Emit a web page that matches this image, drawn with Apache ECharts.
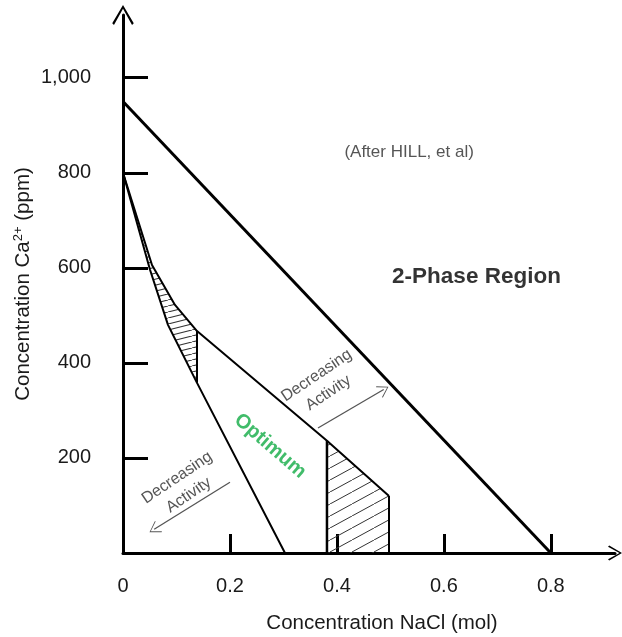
<!DOCTYPE html>
<html>
<head>
<meta charset="utf-8">
<script src="https://cdn.jsdelivr.net/npm/echarts@6/dist/echarts.min.js"></script>
<style>
html,body{margin:0;padding:0;background:#fff;}
#chart{width:622px;height:637px;}
</style>
</head>
<body>
<div id="chart"></div>
<script>
// ---- data (x: NaCl mol, y: Ca2+ ppm) ----
const xTickValues = [0.2, 0.4, 0.6, 0.8];
const xLabelValues = [0, 0.2, 0.4, 0.6, 0.8];
const yTickValues = [200, 400, 600, 800, 1000];

const phaseBoundary = [[0, 950], [0.8, 0]];
const lowerBoundary = [[0, 800], [0.0505, 596], [0.0841, 480], [0.1384, 358], [0.3029, 0]];
const upperBoundary = [[0, 800], [0.0542, 606], [0.0972, 522], [0.1384, 467], [0.3814, 236], [0.4974, 120]];
const leftVertical = [[0.1384, 358], [0.1384, 467]];
const midVertical = [[0.3814, 0], [0.3814, 236]];
const rightVertical = [[0.4974, 0], [0.4974, 120]];
const leftHatch = [[0, 800], [0.0542, 606], [0.0972, 522], [0.1384, 467], [0.1384, 358], [0.0841, 480], [0.0505, 596]];
const rightHatch = [[0.3814, 236], [0.4974, 120], [0.4974, 0], [0.3814, 0]];

const annotationTexts = ['(After HILL, et al)', '2-Phase Region', 'Optimum', 'Decreasing\nActivity', 'Decreasing\nActivity'];
const annotationPoints = [[0.535, 844], [0.661, 581], [0.275, 225], [0.373, 355], [0.112, 140]];
const arrowStarts = [[0.3646, 263], [0.2, 149]];
const arrowEnds = [[0.4875, 344], [0.0583, 50]];

// ---- helpers ----
function hatchPattern(w, h, color, lw) {
  const c = document.createElement('canvas');
  c.width = w; c.height = h;
  const ctx = c.getContext('2d');
  ctx.strokeStyle = color; ctx.lineWidth = lw;
  ctx.beginPath();
  for (const dx of [-w, 0, w]) { ctx.moveTo(dx, h); ctx.lineTo(dx + w, 0); }
  ctx.stroke();
  return { image: c, repeat: 'repeat' };
}
const chevronAxis = 'path://M50,0 L100,85 L92,93 L50,17 L8,93 L0,85 Z';
const chevronThin = 'path://M50,0 L100,82 L95,88 L50,12 L5,88 L0,82 Z';

function lineSeries(data, width) {
  return { type: 'line', data: data, symbol: 'none', showSymbol: false, silent: true, z: 4,
    lineStyle: { color: '#000', width: width }, animation: false };
}
function polySeries(points, pattern) {
  return { type: 'custom', coordinateSystem: 'cartesian2d', silent: true, z: 2, animation: false,
    data: [[0, 0]],
    renderItem: function (params, api) {
      return { type: 'polygon', shape: { points: points.map(p => api.coord(p)) },
        style: { fill: pattern, stroke: null } };
    } };
}

const textBase = { color: '#1a1a1a', fontFamily: 'Liberation Sans, Arial, sans-serif' };
const annStyles = [
  { fontSize: 17, color: '#2a2a2a', rotate: 0 },
  { fontSize: 22.5, fontWeight: 'bold', color: '#000', rotate: 0 },
  { fontSize: 20, fontWeight: 'bold', color: '#12ab45', rotate: -41 },
  { fontSize: 16, color: '#2a2a2a', rotate: 34, lineHeight: 21 },
  { fontSize: 16, color: '#2a2a2a', rotate: 34, lineHeight: 21 }
];

const chart = echarts.init(document.getElementById('chart'), null, { renderer: 'canvas' });
chart.setOption({
  animation: false,
  backgroundColor: '#fff',
  textStyle: { fontFamily: 'Liberation Sans, Arial, sans-serif' },
  grid: { left: 123, right: 7, top: 15, bottom: 84, containLabel: false, outerBoundsMode: 'none' },
  xAxis: {
    type: 'value', min: 0, max: 0.92,
    name: 'Concentration NaCl (mol)', nameLocation: 'middle', nameGap: 60, nameMoveOverlap: false,
    nameTextStyle: Object.assign({}, textBase, { fontSize: 20.5, padding: [0, 0, 0, 26] }),
    axisLine: { show: true, lineStyle: { color: '#000', width: 3 }, symbol: ['none', chevronAxis], symbolSize: [23, 14] },
    axisTick: { show: true, inside: true, length: 19, lineStyle: { color: '#000', width: 3 }, customValues: xTickValues },
    axisLabel: Object.assign({}, textBase, { fontSize: 20, margin: 23, customValues: xLabelValues,
      formatter: v => String(v) }),
    splitLine: { show: false }
  },
  yAxis: {
    type: 'value', min: 0, max: 1132,
    name: 'Concentration Ca{sup|2+} (ppm)', nameLocation: 'middle', nameGap: 88, nameMoveOverlap: false,
    nameTextStyle: Object.assign({}, textBase, { fontSize: 20.5,
      rich: { sup: { fontSize: 13, color: '#1a1a1a', padding: [0, 0, 10, 0] } } }),
    axisLine: { show: true, lineStyle: { color: '#000', width: 3 }, symbol: ['none', chevronAxis], symbolSize: [23, 20] },
    axisTick: { show: true, inside: true, length: 25, lineStyle: { color: '#000', width: 3 }, customValues: yTickValues },
    axisLabel: Object.assign({}, textBase, { fontSize: 20, margin: 32, customValues: yTickValues,
      formatter: v => v.toLocaleString('en-US') }),
    splitLine: { show: false }
  },
  series: [
    polySeries(leftHatch, hatchPattern(24, 6, '#333', 1.1)),
    polySeries(rightHatch, hatchPattern(22, 12, '#333', 1)),
    Object.assign(lineSeries(phaseBoundary, 3), {
      markLine: {
        silent: true, animation: false,
        symbol: ['none', chevronThin], symbolSize: [13, 11],
        label: { show: false },
        lineStyle: { type: 'solid', color: '#555', width: 1.3 },
        data: arrowStarts.map((s, i) => [{ coord: s }, { coord: arrowEnds[i] }])
      }
    }),
    lineSeries(lowerBoundary, 2),
    lineSeries(upperBoundary, 2),
    lineSeries(leftVertical, 2),
    lineSeries(midVertical, 2.5),
    lineSeries(rightVertical, 2),
    {
      type: 'scatter', symbolSize: 0, silent: true, z: 6, animation: false,
      data: annotationTexts.map((t, i) => ({
        value: annotationPoints[i],
        label: Object.assign({ show: true, position: 'inside', formatter: t, align: 'center',
          verticalAlign: 'middle', fontFamily: 'Liberation Sans, Arial, sans-serif' }, annStyles[i])
      }))
    }
  ]
});
</script>
</body>
</html>
